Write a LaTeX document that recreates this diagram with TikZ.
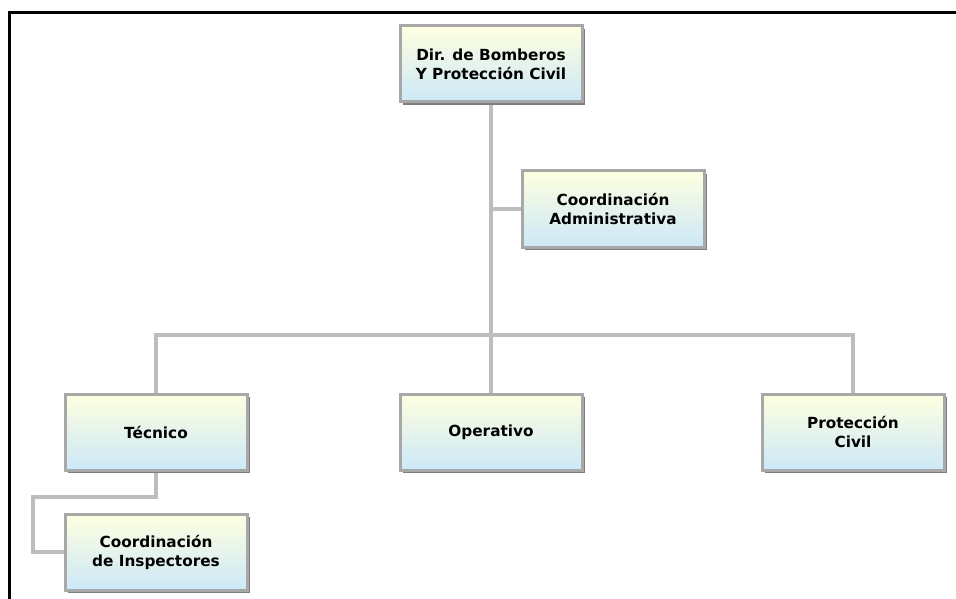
\documentclass[tikz,border=0pt]{standalone}
\usepackage{fontspec}
\newfontfamily\boxfont{DejaVu Sans}
\usetikzlibrary{shadows,backgrounds}
\definecolor{boxtop}{HTML}{FFFFE0}
\definecolor{boxbottom}{HTML}{CCE8F8}
\definecolor{boxedge}{HTML}{A8A8A8}
\definecolor{boxshade}{HTML}{7F7F7F}
\definecolor{linkgray}{HTML}{BDBDBD}
\tikzset{
  unit/.style={draw=boxedge, line width=3pt, top color=boxtop, bottom color=boxbottom,
    minimum width=182pt, minimum height=76pt, inner sep=2pt, align=center,
    font=\boxfont\bfseries\fontsize{15.3}{19}\selectfont,
    drop shadow={shadow xshift=3pt, shadow yshift=-3pt, fill=boxshade, opacity=1}},
  link/.style={draw=linkgray, line width=4pt},
  frame/.style={draw=black, line width=3pt}
}
\begin{document}
\begin{tikzpicture}[x=1pt,y=-1pt]
\useasboundingbox (0,0) rectangle (956,599);
\draw[frame] (9,600) -- (9,13) -- (957,13);

\node[unit] (dir)  at (491,64)  {Dir. de Bomberos\\Y Protección Civil};
\node[unit] (adm)  at (613,209) {Coordinación\\Administrativa};
\node[unit] (tec)  at (156,432) {Técnico};
\node[unit] (ope)  at (491,432) {Operativo};
\node[unit] (pc)   at (853,432) {Protección\\Civil};
\node[unit] (insp) at (156,552) {Coordinación\\de Inspectores};

\coordinate (bus) at (491,335);
\coordinate (bend) at (33,497);

\begin{scope}[on background layer]
  \draw[link] (dir.south) -- (ope.north);
  \draw[link] (adm.west) -- (adm.west -| dir.south);
  \draw[link] (tec.north) |- (bus) -| (pc.north);
  \draw[link] (tec.south) |- (bend) |- (insp.west);
\end{scope}
\end{tikzpicture}
\end{document}
